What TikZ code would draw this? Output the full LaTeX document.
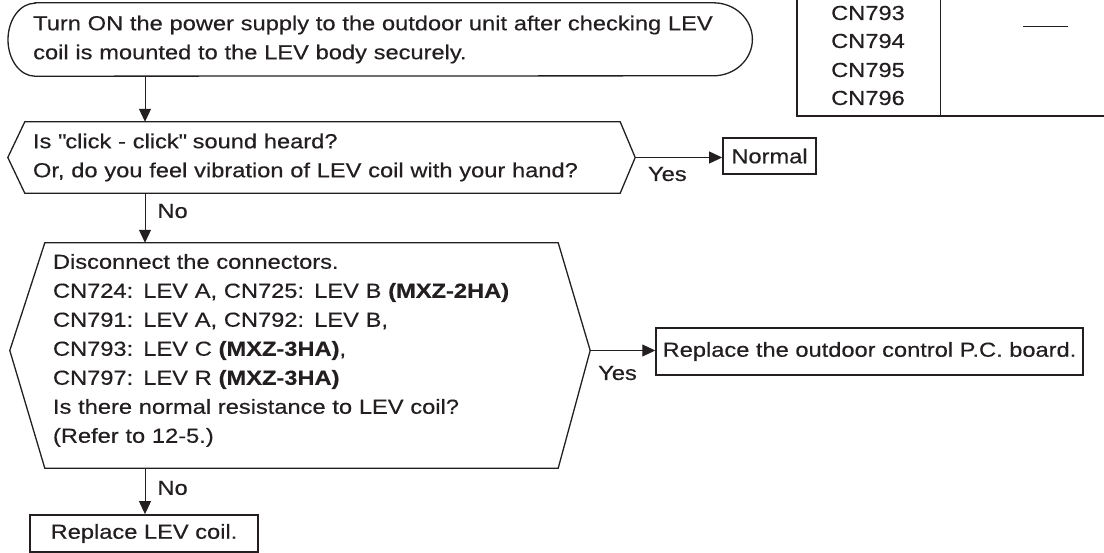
\documentclass[tikz,border=0pt]{standalone}
\usepackage{fontspec}
\setmainfont{Liberation Sans}[FakeStretch=1.165,FakeBold=0.4]
\usepackage{xcolor}
\usetikzlibrary{arrows.meta}
\definecolor{ink}{RGB}{35,31,32}

\begin{document}
\begin{tikzpicture}[x=1pt,y=-1pt,
  every node/.style={inner sep=0pt,text=ink,font=\fontsize{20.3}{29}\selectfont},
  flow/.style={draw=ink,line width=1pt,-{Triangle[length=13pt,width=12pt]}},
  outline/.style={draw=ink,line width=1.3pt},
  question/.style={align=left,inner xsep=8pt},
  result/.style={draw=ink,line width=1.8pt,inner xsep=6.5pt},
  cell/.style={draw=ink,line width=1.4pt}]
\useasboundingbox (0,0) rectangle (1104,553);
\coordinate (spine) at (145,0);
% lower end of the connector table
\draw[cell] (797,0) -- (797,116) -- (1104,116);
\draw[draw=ink,line width=0.9pt] (940,0) -- (940,116);
\foreach \n/\y in {793/13,794/41,795/70,796/98}
  \node (cn\n) at (868,\y) {CN\n};
\draw[draw=ink,line width=1pt] (1023,27) -- (1068,27);
% flow
\node[align=left,anchor=west,text width=690pt,minimum height=73pt] (start) at (33,39.5)
  {Turn ON the power supply to the outdoor unit after checking LEV\\coil is mounted to the LEV body securely.};
\draw[outline] ([xshift=2pt]start.north west) -- ([xshift=-10pt]start.north east)
  arc[start angle=-90,end angle=90,x radius=39,y radius=36.5] -- ([xshift=2pt]start.south west)
  arc[start angle=90,end angle=270,x radius=27,y radius=36.5] -- cycle;
\node[question,text width=579pt,minimum height=71pt] (d1) at (322.5,157.5)
  {Is \textquotedbl click - click\textquotedbl\ sound heard?\\Or, do you feel vibration of LEV coil with your hand?};
\draw[outline] (d1.north west) -- (d1.north east) -- ([xshift=15pt]d1.east) coordinate (d1 yes)
  -- (d1.south east) -- (d1.south west) -- ([xshift=-17pt]d1.west) -- cycle;
\node[result,minimum height=36pt,minimum width=93pt] (normal) at (769.5,156) {Normal};
\node[question,text width=497pt,minimum height=225pt] (d2) at (301.5,355.5)
  {Disconnect the connectors.\\
   CN724: LEV A, CN725: LEV B \textbf{(MXZ-2HA)}\\
   CN791: LEV A, CN792: LEV B,\\
   CN793: LEV C \textbf{(MXZ-3HA)},\\
   CN797: LEV R \textbf{(MXZ-3HA)}\\
   Is there normal resistance to LEV coil?\\
   (Refer to 12-5.)\par\vspace{10pt}\hrule height0pt width0pt};
\draw[outline] (d2.north west) -- (d2.north east) -- ([xshift=32pt,yshift=5pt]d2.east) coordinate (d2 yes)
  -- (d2.south east) -- (d2.south west) -- ([xshift=-35pt,yshift=5pt]d2.west) -- cycle;
\node[result,minimum height=47pt] (pcb) at (869.5,351.5) {Replace the outdoor control P.C. board.};
\node[result,minimum height=37pt,minimum width=228pt] (coil) at (144,533.5) {Replace LEV coil.};
% connectors
\draw[flow] (start.south -| spine) -- (d1.north -| spine);
\draw[flow] (d1 yes) -- node[pos=0.37,below=9pt] (yes1) {Yes} (d1 yes -| normal.west);
\draw[flow] (d1.south -| spine) -- node[pos=0.36,right=12pt] (no1) {No} (d2.north -| spine);
\draw[flow] (d2 yes) -- node[pos=0.42,below=15pt] (yes2) {Yes} (d2 yes -| pcb.west);
\draw[flow] (d2.south -| spine) -- node[pos=0.43,right=12pt] (no2) {No} (coil.north -| spine);
\end{tikzpicture}
\end{document}
